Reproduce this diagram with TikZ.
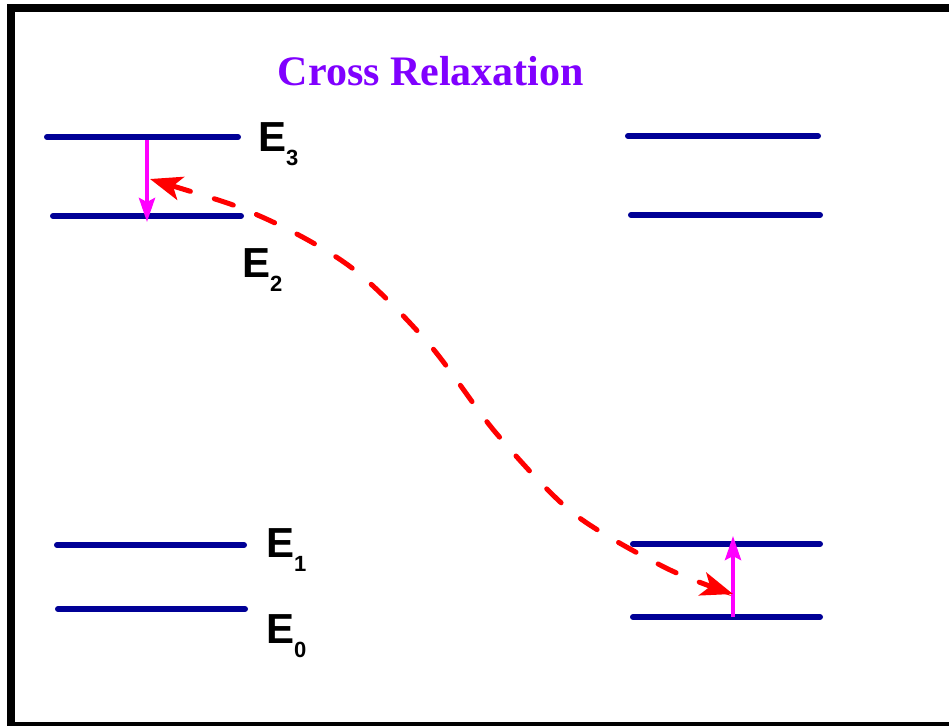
\documentclass[tikz,border=0pt]{standalone}
\usepackage{fontspec}
\setmainfont{Liberation Serif}
\newfontfamily\labfont{Liberation Sans}
\usetikzlibrary{arrows.meta}
\definecolor{lvlblue}{RGB}{0,0,150}
\definecolor{ttlpurple}{RGB}{128,0,255}
\definecolor{mag}{RGB}{255,0,255}
\definecolor{crred}{RGB}{255,0,0}
\tikzset{
  level/.style={line width=6pt, line cap=round, draw=lvlblue},
  lab/.style={inner sep=0pt, anchor=base west, font=\labfont\bfseries\fontsize{42}{42}\selectfont},
  trans/.style={line width=4pt, draw=mag, -{Stealth[length=24pt,width=16pt,inset=4pt]}},
  cross/.style={line width=5pt, draw=crred, line cap=round, dash pattern=on 20pt off 25pt,
    {Stealth[length=32pt,width=24pt,inset=8pt]}-{Stealth[length=32pt,width=24pt,inset=8pt]}},
}
\newcommand{\lsub}[1]{\raisebox{-14pt}{\fontsize{22}{22}\selectfont #1}}
\begin{document}
\begin{tikzpicture}[x=1pt,y=-1pt]
\useasboundingbox (0,0) rectangle (949,726);
% frame
\fill[black] (7,4) rectangle (949,12);
\fill[black] (7,4) rectangle (15,726);
\fill[black] (7,722) rectangle (949,726);
% title
\node[inner sep=0pt, anchor=base, text=ttlpurple, font=\bfseries\fontsize{42}{50}\selectfont] (title) at (431,85) {Cross Relaxation};
% left levels
\coordinate (l3a) at (47,137); \coordinate (l3b) at (238,137);
\coordinate (l2a) at (53,216); \coordinate (l2b) at (241,216);
\coordinate (l1a) at (57,545); \coordinate (l1b) at (244,545);
\coordinate (l0a) at (58,609); \coordinate (l0b) at (245,609);
\draw[level] (l3a) -- (l3b);
\draw[level] (l2a) -- (l2b);
\draw[level] (l1a) -- (l1b);
\draw[level] (l0a) -- (l0b);
% right levels
\coordinate (r3a) at (628,136); \coordinate (r3b) at (818,136);
\coordinate (r2a) at (631,215); \coordinate (r2b) at (820,215);
\coordinate (r1a) at (633,544); \coordinate (r1b) at (820,544);
\coordinate (r0a) at (633,617); \coordinate (r0b) at (820,617);
\draw[level] (r3a) -- (r3b);
\draw[level] (r2a) -- (r2b);
\draw[level] (r1a) -- (r1b);
\draw[level] (r0a) -- (r0b);
% labels
\node[lab] (e3) at (258,151) {E\lsub{3}};
\node[lab] (e2) at (242,277) {E\lsub{2}};
\node[lab] (e1) at (266,557) {E\lsub{1}};
\node[lab] (e0) at (266,643) {E\lsub{0}};
% transitions
\coordinate (dtop) at (147,140); \coordinate (dbot) at (147,222);
\draw[trans] (dtop) -- (dbot);
\coordinate (ubot) at (733,617); \coordinate (utop) at (733,536);
\draw[trans] (ubot) -- (utop);
% cross relaxation curve
\coordinate (c0) at (150,179);
\coordinate (c1) at (262,217);
\coordinate (c2) at (352,268);
\coordinate (c3) at (429,344);
\coordinate (c4) at (496,433);
\coordinate (c5) at (573,513);
\coordinate (c6) at (666,568);
\coordinate (c7) at (733,594);
\draw[cross] plot[smooth] coordinates {(c0) (c1) (c2) (c3) (c4) (c5) (c6) (c7)};
\end{tikzpicture}
\end{document}
